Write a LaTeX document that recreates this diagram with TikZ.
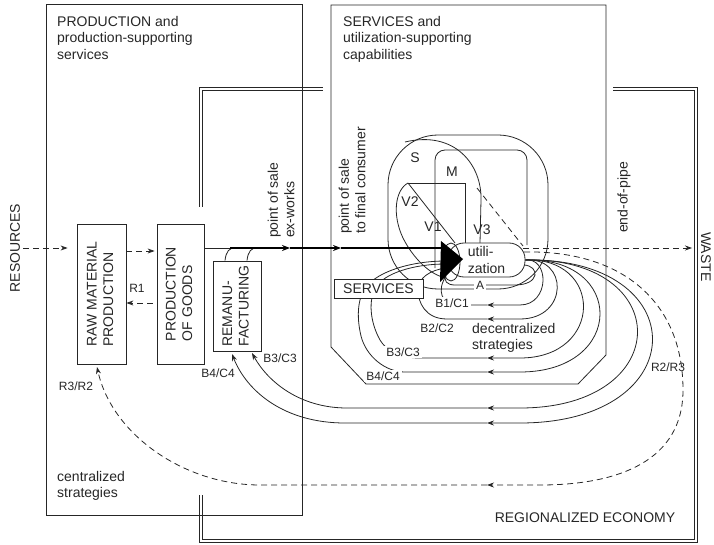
\documentclass[tikz,border=0pt]{standalone}
\usepackage{fontspec}
\setmainfont{Liberation Sans}
\usetikzlibrary{arrows.meta,positioning}

\begin{document}
\begin{tikzpicture}[x=1pt, y=-1pt,
  font=\fontsize{14}{16.5}\selectfont,
  every node/.style={text=black!85},
  ln/.style={draw=black!85, line width=0.8pt},
  box/.style={ln, fill=white, inner sep=0pt},
  flow/.style={draw=black, line width=1.8pt},
  arr/.style={-{Stealth[length=7pt,width=5pt]}},
  bigarr/.style={-{Stealth[length=8pt,width=6pt]}},
  dashflow/.style={ln, dash pattern=on 6pt off 4pt},
  small/.style={font=\fontsize{12}{14}\selectfont},
  lbl/.style={small, fill=white, inner sep=2pt},
  eco/.style={draw=black!85, line width=0.6pt, double, double distance=2.8pt},
]
  \useasboundingbox (0,0) rectangle (714,545);

  % Regionalized economy (double frame)
  \draw[eco] (201,207) -- (201,89) -- (323,89);
  \draw[eco] (613,89) -- (696,89) -- (696,541) -- (201,541) -- (201,495);

  % Production and services frames
  \draw[ln] (46,4) rectangle (302,515);
  \draw[ln] (331,5) -- (606,5) -- (606,355) -- (578,384) -- (366,384) -- (331,347) -- cycle;

  % Headings
  \node[anchor=north west, align=left, inner sep=0pt] (prodhead) at (57,16)
    {PRODUCTION and\\production-supporting\\services};
  \node[anchor=north west, align=left, inner sep=0pt] (servhead) at (343,16)
    {SERVICES and\\utilization-supporting\\capabilities};
  \node[anchor=north west, align=left, inner sep=0pt] (central) at (57,471)
    {centralized\\strategies};
  \node (economy) at (585,518) {REGIONALIZED ECONOMY};
  \node[rotate=90] (resources) at (15,248) {RESOURCES};
  \node[rotate=-90, anchor=west, inner sep=0pt] (waste) at (706,232) {WASTE};

  % Production boxes
  \node[box, minimum width=49pt, minimum height=140pt] (raw) at (101.5,294)
    {\rotatebox{90}{\begin{tabular}{@{}l@{}}RAW MATERIAL\\PRODUCTION\end{tabular}}};
  \node[box, minimum width=47pt, minimum height=140pt] (goods) at (180.5,294)
    {\rotatebox{90}{\begin{tabular}{@{}l@{}}PRODUCTION\\OF GOODS\end{tabular}}};
  \node[box, minimum width=48pt, minimum height=90pt] (remanu) at (237,306)
    {\rotatebox{90}{\begin{tabular}{@{}l@{}}REMANU-\\FACTURING\end{tabular}}};

  % Point of sale labels
  \node[rotate=90, anchor=west, align=left, inner sep=0pt] (exworks) at (281,238)
    {point of sale\\ex-works};
  \node[rotate=90, anchor=west, align=left, inner sep=0pt] (consumer) at (352,234)
    {point of sale\\to final consumer};
  \node[rotate=90, anchor=west, inner sep=0pt] (endpipe) at (624,233) {end-of-pipe};

  % Dashed material flows
  \draw[dashflow, arr, shorten >=9pt] (resources.south) -- (resources.south -| raw.west);
  \draw[dashflow, arr, shorten >=2pt] ([yshift=43pt]raw.east) -- ([yshift=43pt]goods.west);
  \draw[dashflow, arr, shorten <=4pt] ([yshift=-9pt]goods.west) -- ([yshift=-9pt]raw.east);
  \node[small] (r1) at (137,288) {R1};

  % Utilization shapes S, M, V1-V3
  \draw[ln, rounded corners=50pt] (388,135) rectangle (548,289);
  \draw[ln] (405,142) .. controls (455,130) and (482,165) .. (481,200) -- (480,243);
  \draw[ln, rounded corners=10pt] (435,268) -- (435,150) -- (527,150) -- (527,245);
  \draw[ln] (408,183) -- (465,183) -- (465,243);
  \draw[ln] (408,183) -- (455,243);
  \draw[ln] (408,183) .. controls (395,190) and (392,215) .. (403,238)
    .. controls (413,258) and (430,275) .. (446,278);
  \draw[dashflow] (477,188) -- (523,246);
  \node (slab) at (415,158) {S};
  \node (mlab) at (452,172) {M};
  \node (v2lab) at (410,202) {V2};
  \node (v1lab) at (433,227) {V1};
  \node (v3lab) at (482,230) {V3};

  % Decentralized loops (right halves)
  \foreach \xr/\yb in {550/305, 569/319, 604/358, 626/372, 676/408, 696/423}
    \draw[ln, arr] (524,260) .. controls (\xr,256) and (\xr,\yb) .. (520,\yb) -- (487,\yb);

  % Loop A
  \draw[ln] (524,265) .. controls (540,266) and (540,285) .. (515,285) -- (455,285)
    .. controls (447,285) and (443,281) .. (446,274);
  \node[lbl] (alab) at (480,285) {A};

  % Loops (left halves)
  \draw[ln] (487,305) -- (460,305) .. controls (440,305) and (437,290) .. (446,276);
  \draw[ln] (487,319) -- (447,319) .. controls (425,319) and (418,302) .. (418,290)
    .. controls (418,278) and (430,270) .. (446,268);
  \draw[ln] (487,358) -- (420,358) .. controls (398,358) and (386,350) .. (380,340)
    .. controls (370,322) and (368,300) .. (376,287)
    .. controls (384,274) and (412,264) .. (446,264);
  \draw[ln] (487,372) -- (405,372) .. controls (385,372) and (366,356) .. (361,336)
    .. controls (356,315) and (358,296) .. (367,286)
    .. controls (378,272) and (410,261) .. (446,261);
  \draw[ln, arr] (487,408) -- (347,408) .. controls (300,408) and (268,382) .. (252,353);
  \draw[ln, arr] (487,423) -- (345,423) .. controls (285,423) and (247,392) .. (232,354);

  \node[lbl] (b1lab) at (452,303) {B1/C1};
  \node[small] (b2lab) at (437,328) {B2/C2};
  \node[lbl] (b3lab) at (403,352) {B3/C3};
  \node[lbl] (b4lab) at (383,376) {B4/C4};
  \node[anchor=west, align=left, inner sep=0pt] (decentral) at (472,338)
    {decentralized\\strategies};
  \node[small] (b3rem) at (280,358) {B3/C3};
  \node[small] (b4rem) at (218,373) {B4/C4};

  % Recycling loop R2/R3
  \draw[dashflow, arr] (524,252) .. controls (620,250) and (683,300) .. (683,390)
    .. controls (683,460) and (620,485) .. (540,485) -- (487,485);
  \draw[dashflow, arr] (487,485) -- (260,485) .. controls (185,485) and (112,435) .. (97,367);
  \node[small] (r23) at (668,367) {R2/R3};
  \node[small] (r32) at (76,386) {R3/R2};

  % Services box and utilization
  \node[box, minimum width=89pt, minimum height=19pt] (services) at (378.5,288.5) {SERVICES};
  \node[box, rounded corners=16pt, minimum width=77pt, minimum height=34pt, align=left]
    (util) at (486.5,260) {utili-\\zation};
  \draw[ln] (451,262) ellipse [x radius=9, y radius=19];

  % Waste flow
  \coordinate (wastein) at (692,248);
  \draw[dashflow, arr] (523,248) -- (wastein);

  % Main product flow
  \coordinate (m0) at (230,248);
  \coordinate (m1) at (290,248);
  \coordinate (m2) at (341,248);
  \coordinate (m3) at (444,248);
  \draw[ln] ([yshift=46pt]goods.east) -- (m0);
  \draw[ln] ([xshift=-12pt]remanu.north) .. controls ([xshift=-11pt,yshift=9pt]remanu.north)
    and ([xshift=-8pt,yshift=13pt]remanu.north) .. ([xshift=-1pt,yshift=13pt]remanu.north);
  \draw[ln] ([xshift=10pt]remanu.north) .. controls ([xshift=11pt,yshift=9pt]remanu.north)
    and ([xshift=14pt,yshift=13pt]remanu.north) .. ([xshift=21pt,yshift=13pt]remanu.north);
  \draw[flow, bigarr] (m0) -- (m1);
  \draw[flow, bigarr] (m1) -- (m2);
  \draw[flow] (m2) -- (m3);
  \fill[black] (441,241) -- (463,259) -- (440,282) -- cycle;
\end{tikzpicture}
\end{document}
